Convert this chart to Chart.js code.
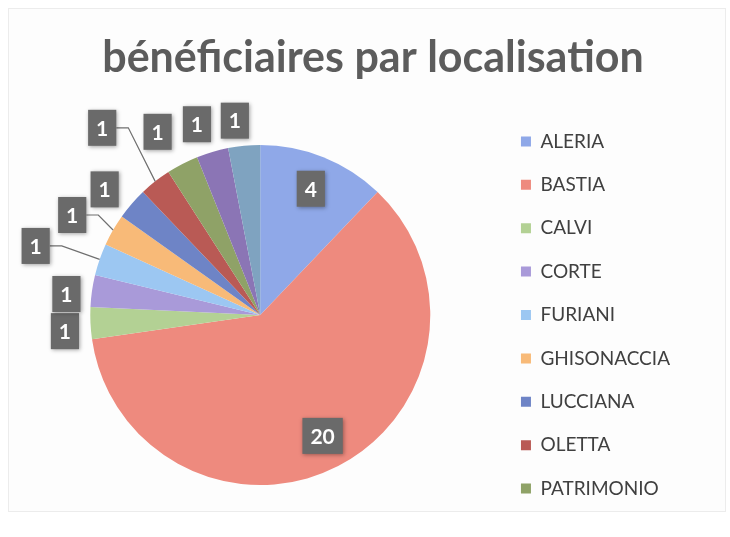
<!DOCTYPE html>
<html>
<head>
<meta charset="utf-8">
<script src="https://cdn.jsdelivr.net/npm/chart.js@4.4.0/dist/chart.umd.min.js"></script>
<style>
    html, body { margin: 0; padding: 0; background: #ffffff; }
    #wrap { position: relative; width: 730px; height: 537px; }
    #frame { position: absolute; left: 8px; top: 8px; width: 716px; height: 502px; border: 1px solid #ececec; background: #fdfdfd; }
    canvas { position: absolute; left: 0; top: 0; }
</style>
</head>
<body>
<div id="wrap">
    <div id="frame"></div>
    <canvas id="pieChart" width="730" height="537"></canvas>
</div>
<script>
// --- Data --- //
const localisations = ['ALERIA', 'BASTIA', 'CALVI', 'CORTE', 'FURIANI', 'GHISONACCIA', 'LUCCIANA', 'OLETTA', 'PATRIMONIO', '', ''];
const beneficiaires = [4, 20, 1, 1, 1, 1, 1, 1, 1, 1, 1];
const sliceColors = ['#8fa8e8', '#ee8a7e', '#b3d194', '#a99ad9', '#9cc7f2', '#f8ba78', '#6e84c6', '#b95a55', '#8fa267', '#8b75b5', '#7fa3c0'];
const legendCount = 9; // the legend in the picture is cut after PATRIMONIO
const chartTitle = 'bénéficiaires par localisation';

// extra distance for outside labels; big pushes get a leader line
const labelPush = [0, 0, -2, -3, 37, 15, 2, 47, 12, 3, -2];

const fontFamily = 'Lato, "Open Sans", sans-serif';
const labelFont = 'bold 21px ' + fontFamily;

// Title is drawn by hand: in the picture it is not centred on the pie + legend block
const titleText = {
    id: 'titleText',
    afterDraw(chart) {
        const ctx = chart.ctx;
        ctx.save();
        ctx.font = 'bold 43px ' + fontFamily;
        ctx.fillStyle = '#5c5c5c';
        ctx.textAlign = 'center';
        ctx.textBaseline = 'alphabetic';
        ctx.fillText(chartTitle, 373, 72);
        ctx.restore();
    }
};

// Draws the grey value boxes, inside for big slices, outside for the small ones
const valueBoxes = {
    id: 'valueBoxes',
    afterDatasetsDraw(chart) {
        const ctx = chart.ctx;
        const meta = chart.getDatasetMeta(0);
        const values = chart.data.datasets[0].data;
        ctx.save();
        ctx.font = labelFont;
        meta.data.forEach((arc, i) => {
            const mid = (arc.startAngle + arc.endAngle) / 2;
            const r = arc.outerRadius;
            const inside = values[i] >= 4;
            const ang = inside ? mid : mid - 2 * Math.PI / 180;
            const dist = inside ? r * 0.8 : r + 28 + labelPush[i];
            const x = arc.x + Math.cos(ang) * dist;
            const y = arc.y + Math.sin(ang) * dist;
            const txt = String(values[i]);
            const w = ctx.measureText(txt).width + 16;
            const h = 36;

            if (!inside && labelPush[i] >= 15) {
                const ex = arc.x + Math.cos(mid) * r;
                const ey = arc.y + Math.sin(mid) * r;
                ctx.strokeStyle = '#6f6f6f';
                ctx.lineWidth = 1.2;
                ctx.beginPath();
                ctx.moveTo(x + w / 2, y);
                ctx.lineTo(x + w / 2 + 12, y);
                ctx.lineTo(ex, ey);
                ctx.stroke();
            }

            ctx.shadowColor = 'rgba(0,0,0,0.35)';
            ctx.shadowBlur = 4;
            ctx.shadowOffsetX = 1;
            ctx.shadowOffsetY = 1;
            ctx.fillStyle = '#6a6a6a';
            ctx.fillRect(x - w / 2, y - h / 2, w, h);
            ctx.shadowColor = 'transparent';
            ctx.fillStyle = '#ffffff';
            ctx.textAlign = 'center';
            ctx.textBaseline = 'middle';
            ctx.fillText(txt, x, y + 1);
        });
        ctx.restore();
    }
};

new Chart(document.getElementById('pieChart'), {
    type: 'pie',
    data: {
        labels: localisations,
        datasets: [{
            data: beneficiaires,
            backgroundColor: sliceColors,
            borderWidth: 0,
            radius: 170
        }]
    },
    options: {
        responsive: false,
        animation: false,
        layout: { padding: { top: 95, left: 24, right: 50, bottom: 2 } },
        plugins: {
            title: { display: false },
            legend: {
                position: 'right',
                labels: {
                    color: '#404040',
                    font: { family: fontFamily, size: 19 },
                    boxWidth: 10,
                    boxHeight: 10,
                    padding: 24.4,
                    filter: (item) => item.index < legendCount
                }
            },
            tooltip: { enabled: false }
        }
    },
    plugins: [valueBoxes, titleText]
});
</script>
</body>
</html>
